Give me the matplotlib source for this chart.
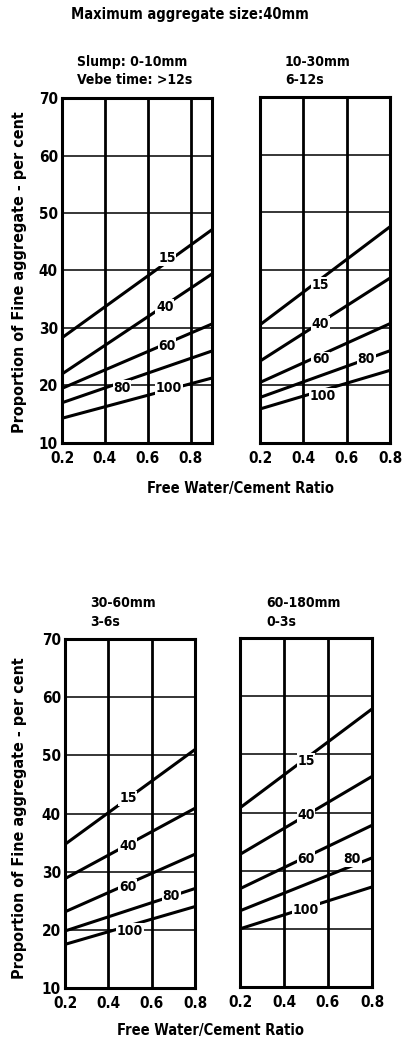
import matplotlib
matplotlib.use('Agg')
import matplotlib.pyplot as plt

plt.rcParams['font.family'] = ['DejaVu Sans']
plt.rcParams['font.weight'] = 'bold'
plt.rcParams['font.stretch'] = 'condensed'

# curve labels (per cent passing 600 um sieve)
curves = ['15', '40', '60', '80', '100']

# panel 1: slump 0-10mm, w/c 0.2 -> 0.9
x1 = [0.2, 0.9]
y1 = [[28.3, 47.1], [22.0, 39.4], [19.5, 30.7], [17.0, 26.0], [14.3, 21.3]]
lab1 = [(0.69, 42.2), (0.68, 33.7), (0.69, 26.9), (0.48, 19.6), (0.70, 19.6)]

# panel 2: slump 10-30mm
x2 = [0.2, 0.8]
y2 = [[30.5, 47.5], [24.2, 38.6], [20.5, 30.7], [17.9, 26.0], [15.9, 22.6]]
lab2 = [(0.48, 37.4), (0.48, 30.7), (0.48, 24.5), (0.69, 24.5), (0.49, 18.2)]

# panel 3: slump 30-60mm
x3 = [0.2, 0.8]
y3 = [[34.7, 51.0], [28.8, 40.9], [23.1, 33.0], [19.8, 27.1], [17.5, 24.0]]
lab3 = [(0.49, 42.6), (0.49, 34.4), (0.49, 27.4), (0.69, 25.8), (0.50, 19.8)]

# panel 4: slump 60-180mm
x4 = [0.2, 0.8]
y4 = [[40.8, 57.8], [32.8, 46.2], [26.9, 37.8], [23.1, 32.2], [20.0, 27.2]]
lab4 = [(0.50, 48.9), (0.50, 39.5), (0.50, 32.0), (0.71, 32.0), (0.50, 23.3)]

W, H = 419, 1042
fig = plt.figure(figsize=(W / 100, H / 100), dpi=100)


def box(x0, y0, x1_, y1_):
    # pixel box -> figure fraction
    return [x0 / W, 1 - y1_ / H, (x1_ - x0) / W, (y1_ - y0) / H]


def panel(rect, xs, ys, labs, xmax, yticks):
    ax = fig.add_axes(rect)
    ax.set_xlim(0.2, xmax)
    ax.set_ylim(10, 70)
    for v in [0.4, 0.6, 0.8]:
        if v < xmax:
            ax.axvline(v, color='black', lw=2.0, zorder=1)
    for v in [20, 30, 40, 50, 60]:
        ax.axhline(v, color='black', lw=1.1, zorder=1)
    for i in range(len(curves)):
        ax.plot(xs, ys[i], color='black', lw=2.2, solid_capstyle='butt', zorder=2)
        ax.text(labs[i][0], labs[i][1], curves[i], fontsize=10, ha='center', va='center',
                zorder=3, bbox=dict(facecolor='white', edgecolor='none', pad=0.5))
    ax.set_xticks([0.2, 0.4, 0.6, 0.8])
    ax.set_xticklabels(['0.2', '0.4', '0.6', '0.8'], fontsize=11)
    ax.set_yticks([10, 20, 30, 40, 50, 60, 70])
    if yticks:
        ax.set_yticklabels(['10', '20', '30', '40', '50', '60', '70'], fontsize=11)
    else:
        ax.set_yticklabels([])
    ax.tick_params(axis='x', length=0, pad=6)
    ax.tick_params(axis='y', length=0, pad=3)
    for s in ax.spines.values():
        s.set_linewidth(2.2)
    return ax


panel(box(62, 98, 212, 443), x1, y1, lab1, 0.9, True)
panel(box(260, 97, 390, 443), x2, y2, lab2, 0.8, False)
panel(box(65, 639, 195, 988), x3, y3, lab3, 0.8, True)
panel(box(240, 638, 372, 987), x4, y4, lab4, 0.8, False)


def txt(x, y, s, size=10, ha='left', rot=0):
    fig.text(x / W, 1 - y / H, s, fontsize=size, ha=ha, va='center', rotation=rot)


txt(190, 15, 'Maximum aggregate size:40mm', size=10.5, ha='center')
txt(77, 62, 'Slump: 0-10mm')
txt(77, 80, 'Vebe time: >12s')
txt(285, 62, '10-30mm')
txt(285, 80, '6-12s')
txt(90, 603, '30-60mm')
txt(90, 622, '3-6s')
txt(266, 603, '60-180mm')
txt(266, 622, '0-3s')
txt(240, 488, 'Free Water/Cement Ratio', size=10.5, ha='center')
txt(210, 1030, 'Free Water/Cement Ratio', size=10.5, ha='center')
txt(20, 272, 'Proportion of Fine aggregate - per cent', size=11.5, ha='center', rot=90)
txt(20, 818, 'Proportion of Fine aggregate - per cent', size=11.5, ha='center', rot=90)

fig.savefig('out.png', dpi=100)
